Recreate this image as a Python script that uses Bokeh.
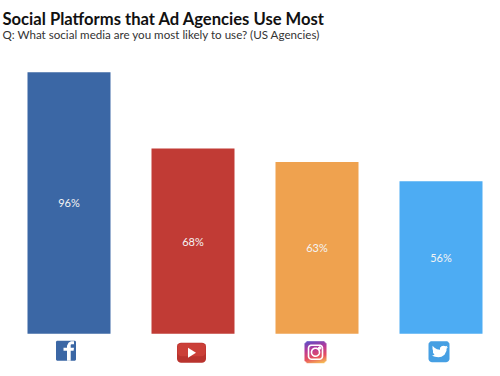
from bokeh.plotting import figure
from bokeh.models import Range1d, Label, ColumnDataSource
from bokeh.core.properties import value
from bokeh.embed import file_html
from bokeh.resources import INLINE
import numpy as np

platforms = ["Facebook", "YouTube", "Instagram", "Twitter"]
shares = [96, 68, 63, 56]
colors = ["#3b67a5", "#c13b35", "#efa24f", "#4dacf3"]
share_labels = ["96%", "68%", "63%", "56%"]
title_text = "Social Platforms that Ad Agencies Use Most"
subtitle_text = "Q: What social media are you most likely to use? (US Agencies)"

W, H = 500, 376
XS = 124.0
YS = 2.724
x0 = -68.5 / XS
y0 = -(H - 333.2) / YS

p = figure(width=W, height=H, output_backend="svg", toolbar_location=None,
           x_range=Range1d(x0, x0 + W / XS), y_range=Range1d(y0, y0 + H / YS),
           min_border=0, outline_line_color=None, background_fill_color="white")
p.axis.visible = False
p.grid.visible = False

xs = list(range(len(platforms)))
src = ColumnDataSource(dict(x=xs, top=shares, c=colors, mid=[s / 2 for s in shares], lab=share_labels))
p.vbar(x="x", top="top", bottom=0, width=83 / XS, fill_color="c", line_color=None, source=src)
p.text(x="x", y="mid", text="lab", text_color="#f4f4f4", text_font=value("Lato"), text_font_size="11px",
       text_align="center", text_baseline="middle", source=src)

# icon helpers: pixel offsets around a category's slot, just under the baseline
def X(i, dx):
    return i + np.asarray(dx, dtype=float) / XS
def Y(dy):
    return -np.asarray(dy, dtype=float) / YS

def rr_pts(cx, cy, w, h, r):
    t = np.linspace(0, np.pi / 2, 6)
    c = np.cos(t) * r
    s = np.sin(t) * r
    hw, hh = w / 2 - r, h / 2 - r
    dx = np.concatenate([hw + c, -hw - s, -hw - c, hw + s]) + cx
    dy = np.concatenate([-hh - s, -hh - c, hh + s, hh + c]) + cy
    return dx, dy

def rrect(i, cx, cy, w, h, r, color):
    dx, dy = rr_pts(cx, cy, w, h, r)
    p.patch(X(i, dx), Y(dy), fill_color=color, line_color=None)

# Facebook
rrect(0, -3, 17, 20, 20, 1.5, "#3b67a5")
p.patch(X(0, [-2, -2, -5.5, -5.5, -2, -2, -0.5, 2, 5, 5, 2.5, 1.7, 1.7, 5, 4.6, 1.7, 1.7]),
        Y([27, 17, 17, 14, 14, 12, 9, 7.5, 7.5, 10.5, 10.5, 11, 14, 14, 17, 17, 27]),
        fill_color="white", line_color=None)

# YouTube
rrect(1, -1.5, 19, 29, 20, 4, "#b9332e")
rrect(1, -1.5, 16, 28, 13, 4, "#cb3f38")
p.patch(X(1, [-5, -5, 3]), Y([14, 24, 19]), fill_color="white", line_color=None)

# Instagram
n = 22
yy, xx = np.mgrid[0:n, 0:n] / (n - 1)
tt = yy * 0.8 + (1 - xx) * 0.2
stops = [0.0, 0.3, 0.65, 1.0]
r = np.interp(tt, stops, [0xf8, 0xe8, 0xb8, 0x5b])
g = np.interp(tt, stops, [0xc8, 0x50, 0x3a, 0x4f])
b = np.interp(tt, stops, [0x55, 0x60, 0x9a, 0xc8])
img = np.zeros((n, n), dtype=np.uint32)
view = img.view(dtype=np.uint8).reshape((n, n, 4))
view[..., 0] = r
view[..., 1] = g
view[..., 2] = b
view[..., 3] = (np.hypot(np.maximum(np.abs(xx - 0.5) * 21 - 7.5, 0), np.maximum(np.abs(yy - 0.5) * 21 - 7.5, 0)) <= 3.2) * 255
p.image_rgba(image=[img], x=[2 - 12.5 / XS], y=[-29.5 / YS], dw=[22 / XS], dh=[22 / YS])
t = np.linspace(0, 2 * np.pi, 40)
p.line(X(2, -1.5 + 4 * np.cos(t)), Y(18.5 + 4 * np.sin(t)), line_color="white", line_width=1.6)
sx, sy = rr_pts(-1.5, 18.5, 14, 14, 3)
p.line(X(2, np.append(sx, sx[0])), Y(np.append(sy, sy[0])), line_color="white", line_width=1.6)
p.scatter(X(2, [2.7]), Y([14.3]), size=2.5, color="white")

# Twitter
rrect(3, -2, 18, 21, 21, 3.5, "#469fe3")
bx = np.array([-9, -7, -4.5, -1.5, -1.5, 0, 2, 4, 6, 5, 6.5, 5, 5, 3, 0, -3, -6.5, -9.5, -7, -8.5, -8.5, -9])
by = np.array([12, 14, 15.5, 16, 14, 12.5, 12, 12.5, 12, 13.5, 13.5, 15, 17, 21, 23, 23.5, 23, 22, 21, 19, 17, 15])
p.patch(X(3, bx + 0.5), Y(by), fill_color="white", line_color=None)

p.add_layout(Label(x=2, y=H - 18, x_units="screen", y_units="screen", text=title_text, text_baseline="alphabetic",
                   text_font="Lato", text_font_style="bold", text_font_size="16.6px", text_color="#111111"))
p.add_layout(Label(x=2, y=H - 34, x_units="screen", y_units="screen", text=subtitle_text, text_baseline="alphabetic",
                   text_font="Lato", text_font_size="11.6px", text_color="#333333"))

open("out.html", "w").write(file_html(p, INLINE))
